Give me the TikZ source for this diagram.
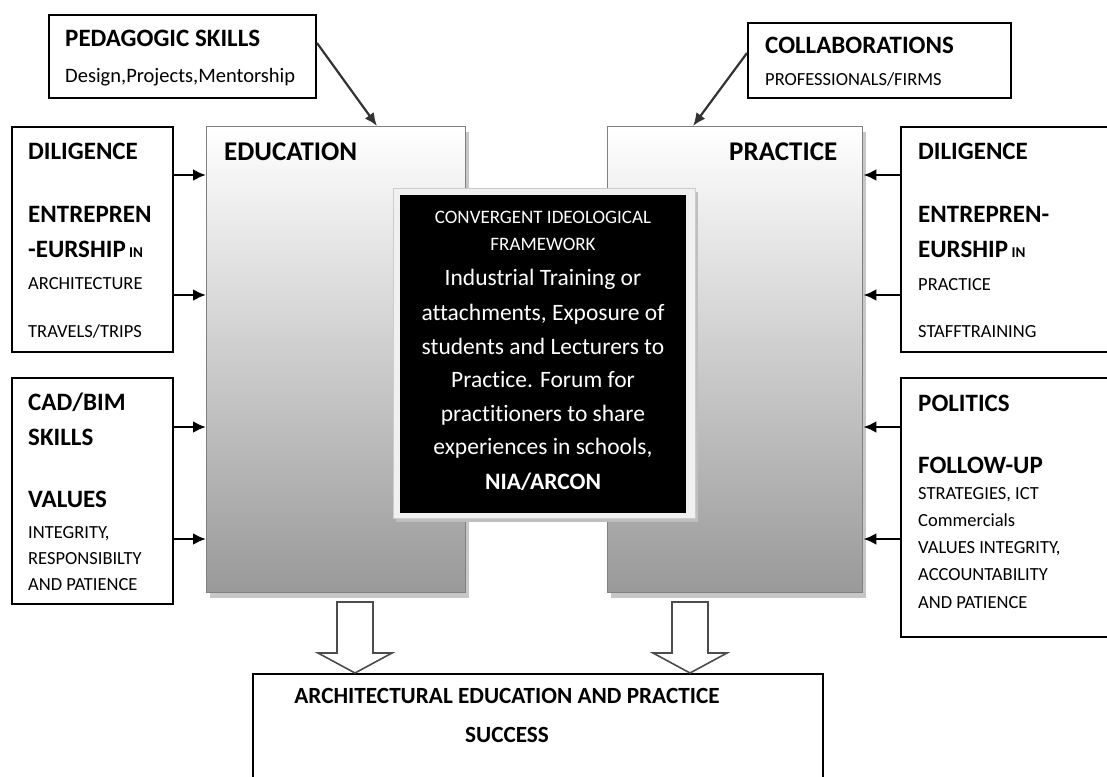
\documentclass[tikz,border=0pt]{standalone}
\usepackage{fontspec}
\setmainfont[Ligatures=NoCommon]{Carlito}
\usetikzlibrary{arrows.meta,shadows}
\newcommand\boxhead{\fontsize{25}{0}\selectfont\bfseries}
\newcommand\panelhead{\fontsize{27}{0}\selectfont\bfseries}
\newcommand\boxtext{\fontsize{18.5}{0}\selectfont}
\newcommand\boxtiny{\fontsize{15}{0}\selectfont}
\newcommand\framehead{\fontsize{19}{0}\selectfont}
\newcommand\frametext{\fontsize{23.5}{0}\selectfont}
\lineskiplimit=-1000pt
\lineskip=0pt
\begin{document}
\begin{tikzpicture}[x=1pt,y=-1pt,
	sidebox/.style={draw=black,line width=2pt,fill=white,anchor=north west},
	panel/.style={draw=black!50,line width=1.4pt,top color=white,bottom color=black!40,anchor=north west,
		drop shadow={shadow xshift=3pt,shadow yshift=-5pt,fill=black!22,opacity=1}},
	txt/.style={align=left,font=\boxtext,anchor=north west},
	feed/.style={-{Latex[length=13pt,width=12pt]},line width=2.8pt},
	feedthin/.style={-{Latex[length=13pt,width=11pt]},line width=2.2pt,black!80},
	blockarr/.style={draw=black!70,line width=1.6pt,fill=white,line join=miter}]
			\tikzstyle{every node}+=[inner sep=0pt]
			\fill [white] (0,0) rectangle (1107,776);
			\useasboundingbox (0,0) rectangle (1107,776);
			\node [panel,minimum width=259pt,minimum height=466pt] (edu) at (206,126) {};
			\node [panel,minimum width=255pt,minimum height=466pt] (prac) at (607,126) {};
			\node [txt,font=\panelhead] (edulab) at (224,143) {EDUCATION};
			\node [txt,font=\panelhead] (praclab) at (729,143) {PRACTICE};
			\node [sidebox,minimum width=267pt,minimum height=83pt] (ped) at (48,14) {};
			\node [sidebox,minimum width=263pt,minimum height=75pt] (collab) at (747,22) {};
			\node [sidebox,minimum width=161pt,minimum height=225pt] (dilL) at (11,126) {};
			\node [sidebox,minimum width=161pt,minimum height=226pt] (cad) at (11,377) {};
			\node [sidebox,minimum width=215pt,minimum height=225pt] (dilR) at (900,126) {};
			\node [sidebox,minimum width=215pt,minimum height=259pt] (pol) at (900,377) {};
			\node [sidebox,minimum width=570pt,minimum height=120pt] (succ) at (252,673) {};
			\node [anchor=north west,fill=black!6,draw=black!20,line width=0.8pt,minimum width=302pt,minimum height=330pt,
				drop shadow={shadow xshift=3pt,shadow yshift=-4pt,fill=black!25,opacity=1}] (frame) at (393,188) {};
			\node [anchor=north west,fill=black,minimum width=286pt,minimum height=318pt] (core) at (400,195) {};
			\node [txt] (pedtxt) at (65,30) {\boxhead PEDAGOGIC SKILLS\\[36pt]
				\fontsize{20.5}{0}\selectfont Design,Projects,Mentorship};
			\node [txt] (collabtxt) at (765,37) {\boxhead COLLABORATIONS\\[32pt]
				PROFESSIONALS/FIRMS};
			\node [txt] (dilLtxt) at (28,143) {\boxhead DILIGENCE\\[63pt]
				\boxhead ENTREPREN\\[35pt]
				\boxhead -EURSHIP{\boxtiny\ IN}\\[32pt]
				ARCHITECTURE\\[48pt]
				TRAVELS/TRIPS};
			\node [txt] (cadtxt) at (28,393) {\boxhead CAD/BIM\\[35pt]
				\boxhead SKILLS\\[62pt]
				\boxhead VALUES\\[31pt]
				INTEGRITY,\\[26pt]
				RESPONSIBILTY\\[26pt]
				AND PATIENCE};
			\node [txt] (dilRtxt) at (918,143) {\boxhead DILIGENCE\\[63pt]
				\boxhead ENTREPREN-\\[35pt]
				\boxhead EURSHIP{\boxtiny\ IN}\\[33pt]
				PRACTICE\\[47pt]
				STAFFTRAINING};
			\node [txt] (poltxt) at (918,395) {\boxhead POLITICS\\[62pt]
				\boxhead FOLLOW-UP\\[26pt]
				STRATEGIES, ICT\\[27pt]
				Commercials\\[27pt]
				VALUES INTEGRITY,\\[27pt]
				ACCOUNTABILITY\\[28pt]
				AND PATIENCE};
			\node [align=center,font=\frametext,text=white,anchor=north] (idea) at (543,211) {\framehead CONVERGENT IDEOLOGICAL\\[27pt]
				\framehead FRAMEWORK\\[35pt]
				Industrial Training or\\[35pt]
				attachments, Exposure of\\[34pt]
				students and Lecturers to\\[33pt]
				Practice. Forum for\\[34pt]
				practitioners to share\\[33pt]
				experiences in schools,\\[35pt]
				\bfseries NIA/ARCON};
			\node [align=center,font=\fontsize{23.2}{0}\selectfont\bfseries,anchor=north] (succtxt) at (507,688) {ARCHITECTURAL EDUCATION AND PRACTICE\\[39pt]
				SUCCESS};
			\draw [feed] (dilL.east |- 0,175) -- (edu.west |- 0,175);
			\draw [feed] (dilL.east |- 0,295) -- (edu.west |- 0,295);
			\draw [feed] (cad.east |- 0,427) -- (edu.west |- 0,427);
			\draw [feed] (cad.east |- 0,539) -- (edu.west |- 0,539);
			\draw [feed] (dilR.west |- 0,175) -- (prac.east |- 0,175);
			\draw [feed] (dilR.west |- 0,295) -- (prac.east |- 0,295);
			\draw [feed] (pol.west |- 0,427) -- (prac.east |- 0,427);
			\draw [feed] (pol.west |- 0,539) -- (prac.east |- 0,539);
			\draw [feedthin] (ped.east |- 0,43) -- (edu.north -| 377,0);
			\draw [feedthin] (collab.west |- 0,53) -- (prac.north -| 693,0);
			\coordinate (eduout) at (355,602);
			\coordinate (pracout) at (690,602);
			\draw [blockarr] (eduout) -- ++(18,0) -- ++(0,51) -- ++(19,0) -- (eduout |- succ.north) -- ++(-37,-20) -- ++(19,0) -- ++(0,-51) -- cycle;
			\draw [blockarr] (pracout) -- ++(18,0) -- ++(0,51) -- ++(19,0) -- (pracout |- succ.north) -- ++(-37,-20) -- ++(19,0) -- ++(0,-51) -- cycle;
\end{tikzpicture}
\end{document}
